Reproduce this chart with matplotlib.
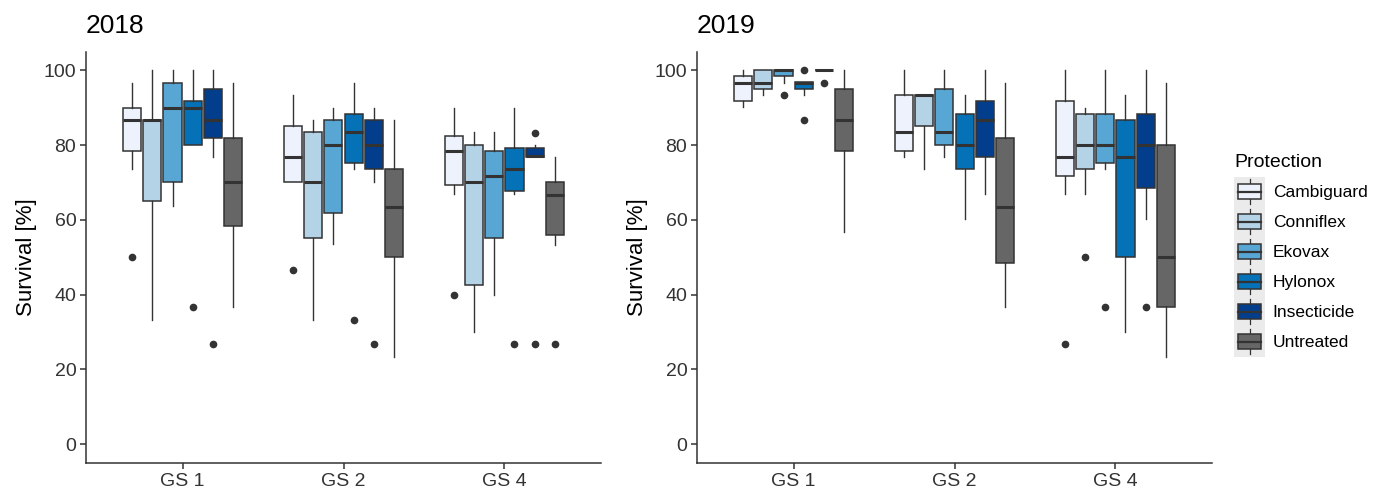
import matplotlib
matplotlib.use("Agg")
import matplotlib.pyplot as plt
from matplotlib.patches import Rectangle
from matplotlib.lines import Line2D
from matplotlib.legend_handler import HandlerBase

plt.rcParams['font.family'] = ['Liberation Sans', 'DejaVu Sans']

# ---------------- data ----------------
groups = ["GS 1", "GS 2", "GS 4"]
protections = ["Cambiguard", "Conniflex", "Ekovax", "Hylonox", "Insecticide", "Untreated"]
colors = ["#EDF2FD", "#B5D3E7", "#57A6D4", "#0571B6", "#023E8C", "#666666"]

# 2018: rows = groups, columns = protections
y2018_low = [[73.6, 33.3, 63.6, 80.0, 76.9, 36.7],
             [70.0, 33.3, 53.5, 73.5, 70.0, 23.3],
             [66.8, 30.0, 40.0, 66.8, 76.7, 53.4]]
y2018_q1 = [[78.5, 65.1, 70.0, 80.0, 81.8, 58.4],
            [70.0, 55.1, 61.7, 75.1, 73.5, 50.0],
            [69.2, 42.6, 55.1, 67.6, 76.7, 55.9]]
y2018_med = [[86.7, 86.7, 90.0, 90.0, 86.7, 70.0],
             [76.8, 70.0, 80.0, 83.4, 80.0, 63.5],
             [78.5, 70.0, 71.7, 73.5, 77.0, 66.7]]
y2018_q3 = [[90.0, 86.7, 96.7, 91.7, 95.0, 81.8],
            [85.1, 83.4, 86.7, 88.4, 86.7, 73.5],
            [82.5, 80.0, 78.4, 79.2, 79.2, 70.0]]
y2018_high = [[96.7, 100.0, 100.0, 100.0, 100.0, 96.7],
              [93.3, 86.7, 90.0, 96.7, 90.0, 86.7],
              [90.0, 83.4, 83.4, 90.0, 80.0, 76.7]]
y2018_out = [[[50.0], [], [], [36.7], [26.7], []],
             [[46.7], [], [], [33.3], [26.7], []],
             [[40.0], [], [], [26.7], [83.3, 26.7], [26.7]]]

# 2019
y2019_low = [[90.1, 93.4, 96.7, 93.3, 100.0, 56.8],
             [76.8, 73.5, 76.8, 60.2, 66.8, 36.8],
             [66.8, 66.8, 73.5, 30.1, 60.2, 23.4]]
y2019_q1 = [[91.7, 95.0, 98.4, 95.0, 100.0, 78.4],
            [78.4, 85.1, 80.0, 73.5, 76.7, 48.4],
            [71.7, 73.5, 75.1, 50.0, 68.4, 36.8]]
y2019_med = [[96.7, 96.7, 100.0, 96.7, 100.0, 86.7],
             [83.4, 93.3, 83.4, 80.0, 86.7, 63.5],
             [76.8, 80.0, 80.0, 76.8, 80.0, 50.0]]
y2019_q3 = [[98.4, 100.0, 100.0, 96.8, 100.0, 95.0],
            [93.4, 93.4, 95.0, 88.4, 91.7, 81.8],
            [91.7, 88.4, 88.4, 86.7, 88.4, 80.0]]
y2019_high = [[100.0, 100.0, 100.0, 96.8, 100.0, 100.0],
              [100.0, 93.4, 100.0, 93.4, 100.0, 96.7],
              [100.0, 90.0, 100.0, 93.3, 100.0, 96.7]]
y2019_out = [[[], [], [93.3], [100.0, 86.7], [96.7], []],
             [[], [], [], [], [], []],
             [[26.7], [50.0], [36.7], [], [36.7], []]]

yticks = [0, 20, 40, 60, 80, 100]

EDGE = "#333333"
TXT = "#333333"

W, H = 1381, 492
fig = plt.figure(figsize=(W / 100, H / 100), dpi=100)

ax_b, ax_t = 463, 51.5
axL = fig.add_axes([86 / W, (H - ax_b) / H, 515 / W, (ax_b - ax_t) / H])
axR = fig.add_axes([697 / W, (H - ax_b) / H, 515 / W, (ax_b - ax_t) / H])

slot = 0.75 / len(protections)


def draw(ax, title, low, q1, med, q3, high, out):
    for gi in range(len(groups)):
        for pi in range(len(protections)):
            st = dict(whislo=low[gi][pi], q1=q1[gi][pi], med=med[gi][pi],
                      q3=q3[gi][pi], whishi=high[gi][pi], fliers=out[gi][pi])
            pos = gi + 1 + (pi - (len(protections) - 1) / 2) * slot
            ax.bxp([st], positions=[pos], widths=slot * 0.9, patch_artist=True,
                   showcaps=False,
                   boxprops=dict(facecolor=colors[pi], edgecolor=EDGE, linewidth=1.1),
                   whiskerprops=dict(color=EDGE, linewidth=1.0),
                   medianprops=dict(color=EDGE, linewidth=2.2, solid_capstyle='butt'),
                   flierprops=dict(marker='o', markerfacecolor=EDGE, markeredgecolor=EDGE,
                                   markersize=4.5, linestyle='none'))
    ax.set_xlim(0.4, 3.6)
    ax.set_ylim(-5, 105)
    ax.set_xticks(range(1, len(groups) + 1))
    ax.set_xticklabels(groups)
    ax.set_yticks(yticks)
    ax.set_yticklabels([str(v) for v in yticks])
    for s in ['top', 'right']:
        ax.spines[s].set_visible(False)
    for s in ['left', 'bottom']:
        ax.spines[s].set_color(EDGE)
        ax.spines[s].set_linewidth(1.1)
    ax.tick_params(axis='both', colors=EDGE, labelcolor=TXT, labelsize=14,
                   length=4, width=1.1, pad=3)
    ax.set_ylabel("Survival [%]", fontsize=16, color='black', labelpad=5)
    ax.set_title(title, loc='left', fontsize=19, pad=13, color='black')


draw(axL, "2018", y2018_low, y2018_q1, y2018_med, y2018_q3, y2018_high, y2018_out)
draw(axR, "2019", y2019_low, y2019_q1, y2019_med, y2019_q3, y2019_high, y2019_out)


class BoxHandler(HandlerBase):
    def create_artists(self, legend, orig_handle, xdescent, ydescent, width, height,
                       fontsize, trans):
        x0, y0 = -xdescent, -ydescent
        cx, cy = x0 + width / 2, y0 + height / 2
        bw, bh = width * 0.74, height * 0.5
        bg = Rectangle((x0, y0), width, height, facecolor="#EBEBEB", edgecolor='none',
                       transform=trans)
        wh = Line2D([cx, cx], [cy - height * 0.42, cy + height * 0.42], color=EDGE,
                    linewidth=0.9, transform=trans)
        box = Rectangle((cx - bw / 2, cy - bh / 2), bw, bh,
                        facecolor=orig_handle.get_facecolor(), edgecolor=EDGE,
                        linewidth=1.1, transform=trans)
        md = Line2D([cx - bw / 2, cx + bw / 2], [cy, cy], color=EDGE, linewidth=1.6,
                    transform=trans)
        return [bg, wh, box, md]


LFS = 12.5
handles = [Rectangle((0, 0), 1, 1, facecolor=c) for c in colors]
# handle total height = fs*hh - 0.35*fs*(hh-0.7) -> 30 px
target_pt = 30 * 72 / 100
hh = (target_pt / LFS - 0.245) / 0.65
leg = fig.legend(handles, protections, loc='upper left',
                 bbox_to_anchor=(1234 / W, (H - 154) / H),
                 frameon=False, fontsize=LFS, title="Protection", title_fontsize=14,
                 handler_map={Rectangle: BoxHandler()},
                 handlelength=31 * 0.72 / LFS, handleheight=hh, labelspacing=0,
                 handletextpad=0.45, borderpad=0, borderaxespad=0, alignment='left')
leg._legend_box.sep = 4

fig.savefig("out.png", dpi=100)
